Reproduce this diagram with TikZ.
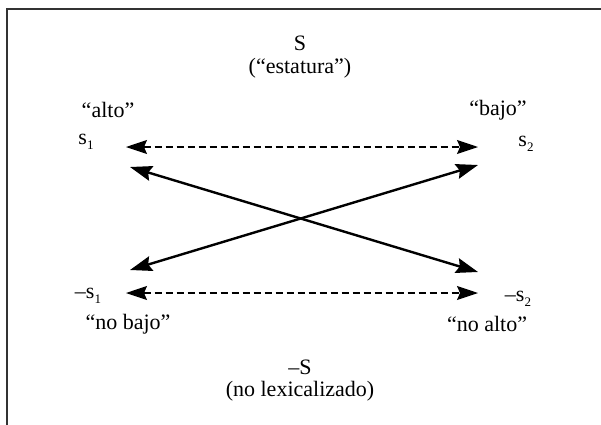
\documentclass[tikz,border=0pt]{standalone}
\usepackage{fontspec}
\setmainfont{Liberation Serif}
\usetikzlibrary{arrows.meta}
\newcommand\subidx[1]{\raisebox{-0.5ex}{\fontsize{13}{13}\selectfont #1}}

\begin{document}
\begin{tikzpicture}[x=1pt, y=-1pt, thick,
  font=\fontsize{22}{26}\selectfont,
  oppose/.style={{Stealth[length=22pt, width=15pt, inset=3pt]}-{Stealth[length=22pt, width=15pt, inset=3pt]}, line width=2.4pt},
  contrary/.style={{Stealth[length=21pt, width=14pt, inset=3pt]}-{Stealth[length=21pt, width=14pt, inset=3pt]}, line width=1.2pt, dash pattern=on 7pt off 4pt}]
  \useasboundingbox (0,0) rectangle (601,424);
  % Frame
  \draw[line width=2pt, black!80] (7,430) -- (7,8.5) -- (610,8.5);
  % Top: the scale S
  \node (S) at (300,43) {S};
  \node (est) at (300,68) {(“estatura”)};
  % Positive terms
  \node (alto) at (108,110) {“alto”};
  \node (bajo) at (498,110) {“bajo”};
  \node (s1) at (86,142) {s\subidx{1}};
  \node (s2) at (526,144) {s\subidx{2}};
  % Negated terms
  \node (ns1) at (88,296) {–s\subidx{1}};
  \node (ns2) at (518,299) {–s\subidx{2}};
  \node (nobajo) at (128,324) {“no bajo”};
  \node (noalto) at (487,324) {“no alto”};
  % Bottom: the scale -S
  \node (nS) at (300,367) {–S};
  \node (nolex) at (300,391) {(no lexicalizado)};
  % Arrow ends
  \coordinate (a1) at (126,147);
  \coordinate (b1) at (478,147);
  \coordinate (a2) at (126,293);
  \coordinate (b2) at (478,293);
  \coordinate (c1) at (130,167);
  \coordinate (d1) at (478,165);
  \coordinate (c2) at (130,270);
  \coordinate (d2) at (478,272);
  % Contrary pairs (dashed)
  \draw[contrary] (a1) -- (b1);
  \draw[contrary] (a2) -- (b2);
  % Contradictory pairs (solid)
  \draw[oppose] (c1) -- (d2);
  \draw[oppose] (c2) -- (d1);
\end{tikzpicture}
\end{document}
